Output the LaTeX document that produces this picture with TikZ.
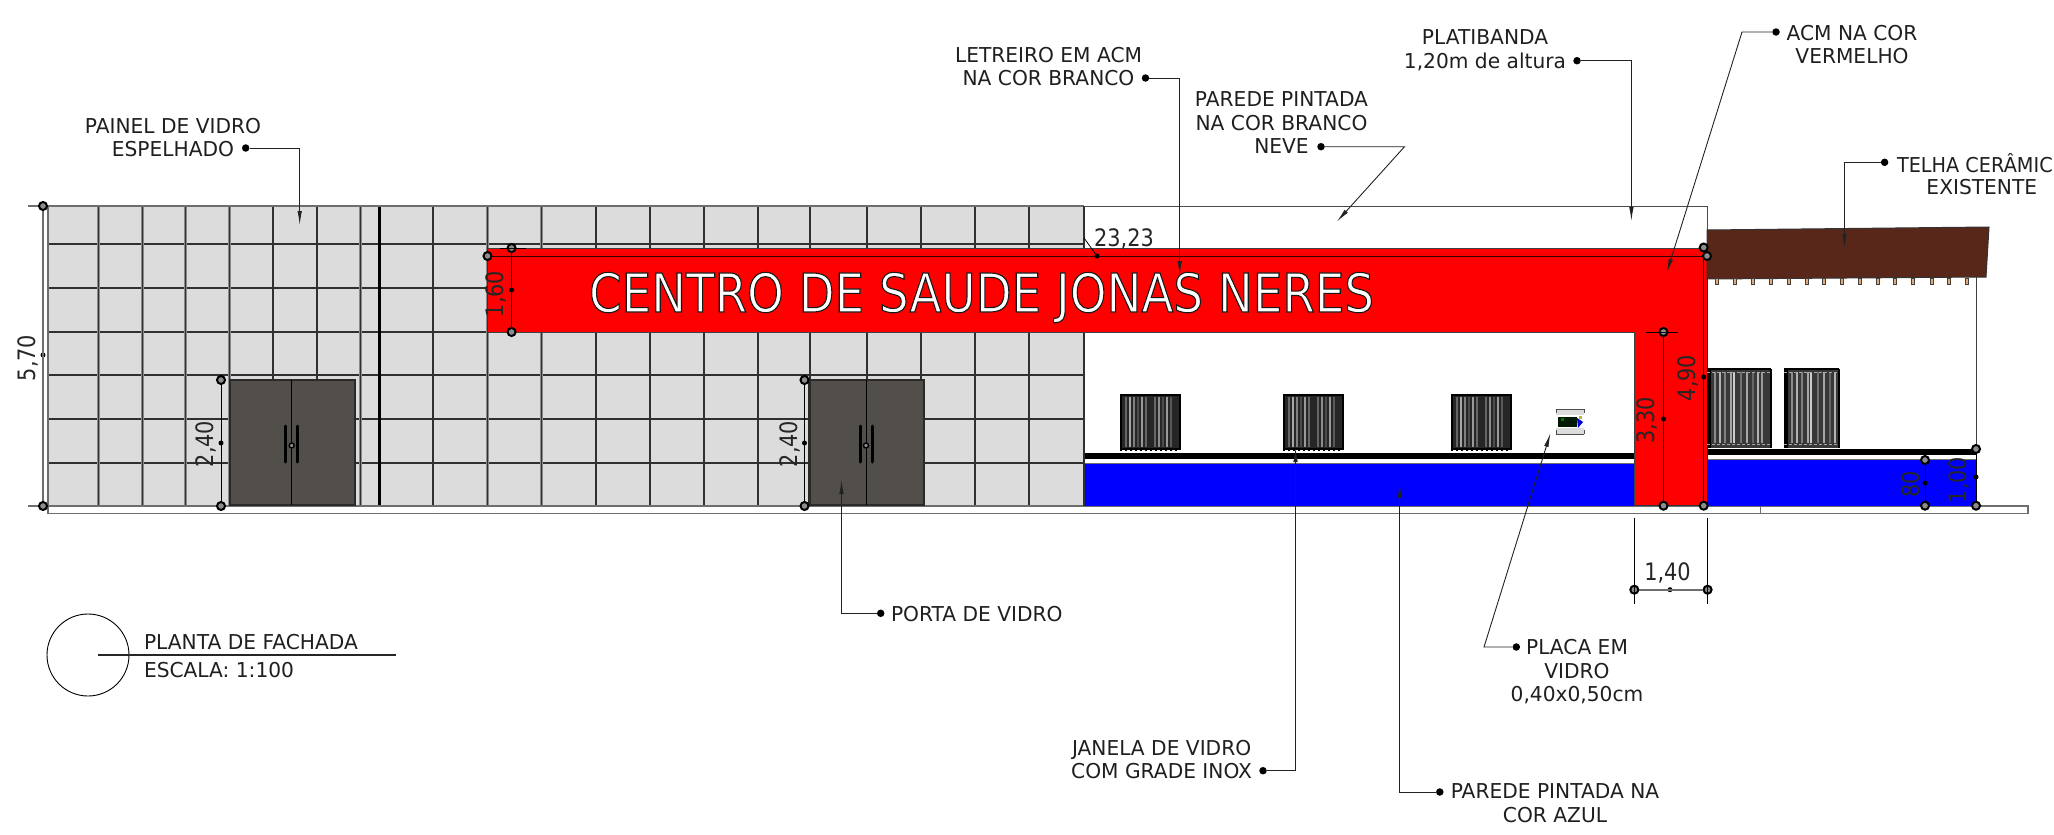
\documentclass[tikz,border=0pt]{standalone}
\usepackage{fontspec}
\setmainfont{DejaVu Sans}
\newfontfamily\labfont[FakeStretch=0.985]{DejaVu Sans}
\newfontfamily\labnarrow[FakeStretch=0.94]{DejaVu Sans}
\newfontfamily\dimfont[FakeStretch=0.87]{DejaVu Sans}
\newfontfamily\titfont[FakeStretch=0.873]{DejaVu Sans}
\usetikzlibrary{arrows.meta}
\definecolor{tile}{HTML}{DCDCDC}
\definecolor{gridl}{HTML}{8A8A8A}
\definecolor{gridc}{HTML}{303030}
\definecolor{doorf}{HTML}{524E4A}
\definecolor{doore}{HTML}{2A2A2A}
\definecolor{roofc}{HTML}{58271A}
\definecolor{tipc}{HTML}{E2A878}
\definecolor{rule}{HTML}{6E6E6E}
\definecolor{leadc}{HTML}{222222}
\tikzset{
  lab/.style={font=\labfont\fontsize{20.5}{23.4}\selectfont,inner sep=0pt,outer sep=0pt,align=center,anchor=north,text=black!88},
  labl/.style={lab,anchor=base west,align=left},
  dimt/.style={font=\dimfont\fontsize{24}{24}\selectfont,inner sep=0pt,anchor=base,text=black!85},
  dimv/.style={dimt,rotate=90},
  ring/.style={circle,draw=black,line width=2pt,fill=black!45,minimum size=8pt,inner sep=0pt},
  mid/.style={circle,fill=black,minimum size=5pt,inner sep=0pt},
  ldot/.style={circle,fill=black,minimum size=7.5pt,inner sep=0pt},
  leader/.style={draw=leadc,line width=0.9pt,-{Latex[length=14pt,width=4.5pt]}},
  dimline/.style={draw=black,line width=0.8pt},
  gridline/.style={draw=gridl,line width=0.9pt,double=gridc,double distance=1.1pt},
  thin edge/.style={draw=rule,line width=1pt},
}
\newcommand{\grade}[4]{%
  \fill[black!85] (#1,#2) rectangle (#3,#4);
  \foreach \d/\c in {5/60,9/35,13/50,17/70,21/40,25/60,34/60,38/45,42/70,46/40,50/65}{
    \draw[black!\c,line width=1.6pt] ({#1+\d},{#2+2}) -- ({#1+\d},{#4-2});}
  \foreach \d in {0,5,...,55}{
    \draw[black,line width=1.2pt] ({#1+\d},{#2-1.5}) -- ({#1+\d},{#2+1});
    \draw[black,line width=1.2pt] ({#1+\d},{#4-1}) -- ({#1+\d},{#4+1.5});}
  \draw[black,line width=2pt] (#1,#2) rectangle (#3,#4);
}
\newcommand{\gradeb}[4]{%
  \fill[black!78] (#1,#2) rectangle (#3,#4);
  \foreach \d/\c in {8/45,13/30,18/50,24/35,27/20,34/55,40/35,46/60,51/30,55/40}{
    \draw[black!\c,line width=1.4pt] ({#1+\d},{#2+3}) -- ({#1+\d},{#4-5});}
  \draw[black,line width=4pt] ({#1+2},#2) -- ({#1+2},#4);
  \draw[black,line width=2pt] (#1,#2) -- (#3,#2) (#3,#2) -- (#3,#4);
  \draw[black!35,line width=1pt,dash pattern=on 3pt off 2pt] (#1,{#2+3}) -- (#3,{#2+3}) (#1,{#4-4}) -- (#3,{#4-4});
}
\newcommand{\porta}[4]{%
  \draw[doore,fill=doorf,line width=2.6pt] (#1,380) rectangle (#2,505);
  \draw[black,line width=0.8pt] (#3,380) -- (#3,505);
  \draw[black,line width=3pt,line cap=round] ({#3-6},426) -- ({#3-6},462) ({#3+6},426) -- ({#3+6},462);
  \node[ring,minimum size=5pt,line width=1.4pt] (#4) at (#3,445.5) {};
}
\begin{document}
\begin{tikzpicture}[x=1pt,y=-1pt]
\useasboundingbox (0,0) rectangle (2054,835);
% base
\draw[thin edge,fill=white,line width=1.2pt] (48,506) rectangle (2028,513.7);
\draw[thin edge] (1760,506) -- (1760,513.7);
% glass panel
\fill[tile] (48,206) rectangle (1084,506);
\foreach \y in {244,288,332,375,419,463}{\draw[gridline] (48,\y) -- (1084,\y);}
\foreach \x in {98.7,142.4,185.7,229.5,273,317,360.7,433,487.5,541.5,596,650,704,758,810,867,921,975,1029}{\draw[gridline] (\x,206) -- (\x,506);}
\draw[black,line width=2.6pt] (379.5,206) -- (379.5,506);
\draw[thin edge,line width=1.6pt] (48,206) -- (1084,206);
\draw[thin edge,line width=1.6pt] (48,206) -- (48,506) -- (1084,506);
\draw[gridline] (1084,206) -- (1084,506);
% white wall
\draw[draw=black!70,line width=1pt] (1084,206) -- (1707,206) -- (1707,248);
% blue plinth
\fill[blue] (1085,463) rectangle (1634,505.7);
\fill[black] (1085,453) rectangle (1634,459);
\draw[rule,line width=1pt] (1085,463) -- (1634,463);
\fill[blue] (1707,460) rectangle (1976,505.7);
\fill[black] (1707,449) rectangle (1976,455);
\draw[black!55,line width=1pt] (1707,459.5) -- (1976,459.5);
% red sign and pillar
\fill[red] (487.5,248) rectangle (1704,332);
\fill[red] (1634,332) rectangle (1704,505.7);
\fill[red] (1704,256) rectangle (1707.3,505.7);
\draw[black!75,line width=0.9pt] (487.5,332) -- (1634,332) -- (1634,505.7);
\draw[black!75,line width=0.9pt] (487.5,248) -- (1704,248);
\draw[black!80!red,line width=0.9pt] (487.5,256) -- (1707,256);
\draw[black!60!red,line width=0.9pt] (1707.3,256) -- (1707.3,505.7);
\draw[black!80,line width=0.9pt] (1634,505.7) -- (1707,505.7);
% sign text
\node[font=\titfont\fontsize{53.5}{53.5}\selectfont,inner sep=0pt,anchor=base,text=white] (letreiro) at (981.5,312) {\special{pdf:code 2 Tr 1.1 w 0.1 0.1 0.1 RG}CENTRO DE SAUDE JONAS NERES\special{pdf:code 0 Tr}};
% roof
\draw[black!80,fill=roofc,line width=1pt] (1707,230) -- (1989,227) -- (1986,277) -- (1707,279) -- cycle;
\foreach \x in {1717,1735,1753,1770.5,1788.5,1806.5,1824,1842,1859.5,1877.5,1895,1913,1931.5,1949,1967}{
  \draw[black!75,fill=tipc,line width=0.6pt] (\x-1.5,278.5) rectangle (\x+1.5,284);}
\draw[black!75,line width=0.9pt] (1976,277) -- (1976,449);
% windows
\grade{1121}{395}{1179.5}{449}
\grade{1284}{395}{1342.5}{449}
\grade{1452}{395}{1510.5}{449}
\gradeb{1707}{369}{1771}{448}
\gradeb{1784}{369}{1839}{448}
% glass plate
\fill[tile] (1556,409) rectangle (1584,415);
\fill[tile] (1556,428) rectangle (1584,434);
\draw[black!70,line width=0.8pt] (1556,409) -- (1584,409) (1556,434) -- (1584,434) (1556,409) -- (1556,413) (1584,409) -- (1584,413) (1556,430) -- (1556,434) (1584,430) -- (1584,434);
\fill[black!90!green] (1558,417) rectangle (1577,427);
\fill[blue!85!black] (1577,418) -- (1583,422) -- (1578,428) -- cycle;
\fill[green!45!black] (1561,418) rectangle (1564,421);
\fill[yellow!70!black] (1579,416) rectangle (1582,419);
% doors
\porta{230}{355}{291.7}{porta1}
\porta{809.5}{924}{866}{porta2}
% dimensions
\node[ring] (a1) at (43,206) {}; \node[ring] (a2) at (43,506) {}; \node[mid] (am) at (43,355) {};
\draw[rule,line width=1.2pt] (28,206) -- (a1) (28,506) -- (a2) (a1) -- (a2);
\node[dimv] (t570) at (35,358) {5,70};
\node[ring] (b1) at (221,380) {}; \node[ring] (b2) at (221,506) {}; \node[mid] (bm) at (221,443) {};
\draw[dimline] (b1) -- (b2);
\node[dimv] (t240a) at (213.4,444) {2,40};
\node[ring] (c1) at (804.5,380) {}; \node[ring] (c2) at (804.5,506) {}; \node[mid] (cm) at (804.5,443) {};
\draw[dimline] (c1) -- (c2);
\node[dimv] (t240b) at (797,444) {2,40};
\node[ring] (d1) at (511.6,248) {}; \node[ring] (d2) at (511.6,332) {}; \node[mid] (dm) at (511.6,290) {};
\node[ring] (d3) at (487.5,256) {};
\draw[dimline] (500,248) -- (526,248) (d1) -- (d2);
\node[dimv] (t160) at (503.6,294) {1,60};
\coordinate (e0) at (1084,238); \node[mid,minimum size=5pt] (e1) at (1097,256) {};
\draw[dimline] (e0) -- (e1);
\node[dimt] (t2323) at (1124,246) {23,23};
\node[ring] (f1) at (1703.7,247.5) {}; \node[ring] (f2) at (1703.7,505.7) {}; \node[mid] (fm) at (1703.7,377) {};
\node[ring] (f3) at (1707,256) {};
\draw[dimline] (f1) -- (f2);
\node[dimv] (t490) at (1695,378) {4,90};
\node[ring] (g1) at (1663.5,332) {}; \node[ring] (g2) at (1663.5,505.7) {}; \node[mid] (gm) at (1663.5,419) {};
\draw[dimline] (1646,332) -- (1678,332) (g1) -- (g2);
\node[dimv] (t330) at (1654,420.5) {3,30};
\node[ring] (h1) at (1925,460) {}; \node[ring] (h2) at (1925,505.7) {}; \node[mid] (hm) at (1925,483) {};
\draw[dimline] (h1) -- (h2);
\node[dimv] (t80) at (1919,484.7) {80};
\node[ring] (i1) at (1976,449) {}; \node[ring] (i2) at (1976,505.7) {}; \node[mid] (im) at (1976,477) {};
\draw[dimline] (i1) -- (i2);
\node[dimv] (t100) at (1966.7,480) {1,00};
\node[ring] (j1) at (1634.3,589.7) {}; \node[ring] (j2) at (1707.6,589.7) {}; \node[mid,minimum size=5pt] (jm) at (1670,589.7) {};
\draw[rule,line width=1.6pt] (j1) -- (j2);
\draw[dimline] (1634.3,518) -- (1634.3,604) (1707.6,518) -- (1707.6,604);
\node[dimt] (t140) at (1667.5,580) {1,40};
% leaders
\node[lab] (l1) at (173,118) {PAINEL DE VIDRO\\ESPELHADO};
\node[ldot] (l1d) at (245.7,148) {}; \coordinate (l1t) at (299.7,225);
\draw[leader] (l1d) -| (l1t);
\node[lab] (l2) at (1048.5,47) {LETREIRO EM ACM\\NA COR BRANCO};
\node[ldot] (l2d) at (1145.5,78) {}; \coordinate (l2t) at (1179.7,275);
\draw[leader] (l2d) -| (l2t);
\node[lab] (l3) at (1281.5,92) {PAREDE PINTADA\\NA COR BRANCO\\NEVE};
\node[ldot] (l3d) at (1321,146.7) {}; \coordinate (l3c) at (1404.5,146.7); \coordinate (l3t) at (1336.8,221.7);
\draw[leader] (l3d) -- (l3c) -- (l3t);
\node[lab] (l4) at (1485,30) {PLATIBANDA\\1,20m de altura};
\node[ldot] (l4d) at (1577,60.7) {}; \coordinate (l4t) at (1631.4,221);
\draw[leader] (l4d) -| (l4t);
\node[lab] (l5) at (1852,25) {ACM NA COR\\VERMELHO};
\node[ldot] (l5d) at (1776,32) {}; \coordinate (l5c) at (1742,32); \coordinate (l5t) at (1666.7,272.7);
\draw[leader] (l5d) -- (l5c) -- (l5t);
\node[labl,font=\labnarrow\fontsize{20.5}{23.4}\selectfont] (l6a) at (1897,172) {TELHA CERÂMIC};
\node[lab,anchor=base] (l6b) at (1981.8,194) {EXISTENTE};
\node[ldot] (l6d) at (1884.6,162.3) {}; \coordinate (l6t) at (1844.5,248.3);
\draw[leader] (l6d) -| (l6t);
\node[labl] (l7) at (891,621) {PORTA DE VIDRO};
\node[ldot] (l7d) at (880.7,613.3) {}; \coordinate (l7t) at (841.5,480);
\draw[leader] (l7d) -| (l7t);
\node[lab] (l8) at (1161.6,740) {JANELA DE VIDRO\\COM GRADE INOX};
\node[ldot] (l8d) at (1263,770.7) {}; \coordinate (l8t) at (1295.5,448);
\draw[leader] (l8d) -| (l8t);
\node[lab] (l9) at (1555,784) {PAREDE PINTADA NA\\COR AZUL};
\node[ldot] (l9d) at (1439.8,792) {}; \coordinate (l9t) at (1399.7,484);
\draw[leader] (l9d) -| (l9t);
\node[lab] (l10) at (1577,639.5) {PLACA EM\\VIDRO\\0,40x0,50cm};
\node[ldot] (l10d) at (1516.3,647) {}; \coordinate (l10c) at (1484,647); \coordinate (l10t) at (1550.5,433);
\draw[leader] (l10d) -- (l10c) -- (l10t);
% title block
\node[circle,draw=black,line width=0.9pt,minimum size=82pt,inner sep=0pt] (sym) at (88,655) {};
\coordinate (r1) at (98,655); \coordinate (r2) at (396,655);
\draw[black!85,line width=1.1pt] (r1) -- (r2);
\node[labl] (t1) at (144,649) {PLANTA DE FACHADA};
\node[labl] (t2) at (144,677) {ESCALA: 1:100};
\end{tikzpicture}
\end{document}
